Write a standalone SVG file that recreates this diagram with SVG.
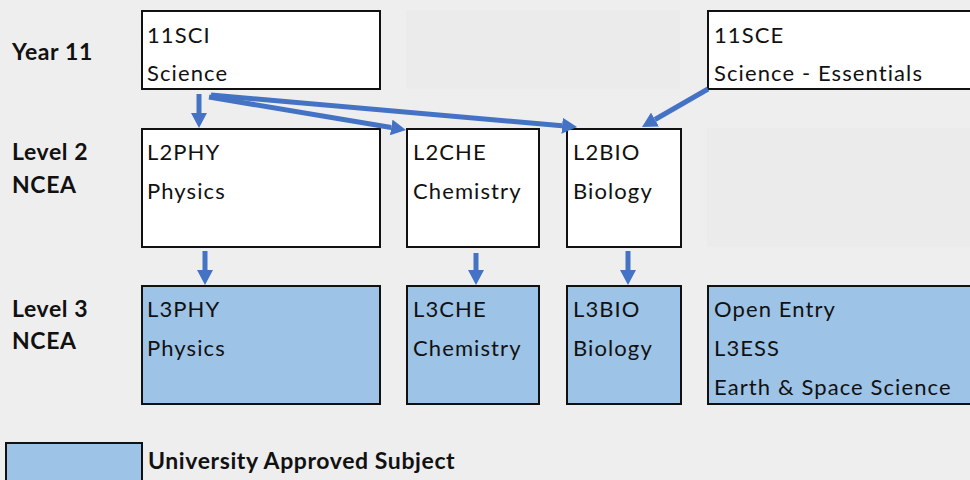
<svg xmlns="http://www.w3.org/2000/svg" width="970" height="480" viewBox="0 0 970 480">
<defs>
<style>
.bg{fill:#eeeeee}
.ph{fill:#ebebeb}
.box{fill:#ffffff;stroke:#111111;stroke-width:2}
.uni{fill:#9dc3e6;stroke:#111111;stroke-width:2}
.t{font-family:Lato,"Liberation Sans",sans-serif;font-size:22px;fill:#111111;letter-spacing:1.1px}
.lbl{font-family:Lato,"Liberation Sans",sans-serif;font-size:23px;font-weight:bold;fill:#111111;letter-spacing:0.6px}
.con line{stroke:#4472c4;stroke-width:5;fill:none;marker-end:url(#ah)}
</style>
<marker id="ah" viewBox="0 0 15 16" refX="0" refY="8" markerWidth="15" markerHeight="16" markerUnits="userSpaceOnUse" orient="auto">
<path d="M0,0 L15,8 L0,16 z" fill="#4472c4"/>
</marker>
</defs>
<rect class="bg" x="0" y="0" width="970" height="480"/>
<rect class="ph" x="406" y="10" width="274" height="79"/>
<rect class="ph" x="707" y="128" width="263" height="119"/>

<g id="row-labels">
<text class="lbl" x="12" y="60">Year 11</text>
<text class="lbl" x="12" y="160">Level 2</text>
<text class="lbl" x="12" y="193">NCEA</text>
<text class="lbl" x="12" y="317">Level 3</text>
<text class="lbl" x="12" y="349">NCEA</text>
</g>

<g id="n-11SCI"><rect class="box" x="142" y="11" width="238" height="78"/>
<text class="t" x="147" y="43">11SCI</text><text class="t" x="147" y="81">Science</text></g>
<g id="n-11SCE"><rect class="box" x="708" y="11" width="265" height="78"/>
<text class="t" x="714" y="43">11SCE</text><text class="t" x="714" y="81">Science - Essentials</text></g>

<g id="n-L2PHY"><rect class="box" x="142" y="129" width="238" height="118"/>
<text class="t" x="147" y="160">L2PHY</text><text class="t" x="147" y="199">Physics</text></g>
<g id="n-L2CHE"><rect class="box" x="407" y="129" width="132" height="118"/>
<text class="t" x="413" y="160">L2CHE</text><text class="t" x="413" y="199">Chemistry</text></g>
<g id="n-L2BIO"><rect class="box" x="567" y="129" width="114" height="118"/>
<text class="t" x="573" y="160">L2BIO</text><text class="t" x="573" y="199">Biology</text></g>

<g id="n-L3PHY"><rect class="uni" x="142" y="286" width="238" height="118"/>
<text class="t" x="147" y="317">L3PHY</text><text class="t" x="147" y="356">Physics</text></g>
<g id="n-L3CHE"><rect class="uni" x="407" y="286" width="132" height="118"/>
<text class="t" x="413" y="317">L3CHE</text><text class="t" x="413" y="356">Chemistry</text></g>
<g id="n-L3BIO"><rect class="uni" x="567" y="286" width="114" height="118"/>
<text class="t" x="573" y="317">L3BIO</text><text class="t" x="573" y="356">Biology</text></g>
<g id="n-L3ESS"><rect class="uni" x="708" y="286" width="265" height="118"/>
<text class="t" x="714" y="317">Open Entry</text><text class="t" x="714" y="356">L3ESS</text><text class="t" x="714" y="395">Earth &amp; Space Science</text></g>

<g id="legend"><rect class="uni" x="6" y="443" width="136" height="42"/>
<text class="lbl" x="148" y="469">University Approved Subject</text></g>

<g id="connectors" class="con">
<line x1="199" y1="94" x2="199" y2="113"/>
<line x1="209" y1="97" x2="391.2" y2="127.5"/>
<line x1="211" y1="95" x2="562.1" y2="125.7"/>
<line x1="708" y1="89" x2="655" y2="119.5"/>
<line x1="205" y1="251" x2="205" y2="270"/>
<line x1="476" y1="253" x2="476" y2="270"/>
<line x1="628" y1="251" x2="628" y2="270"/>
</g>
</svg>
